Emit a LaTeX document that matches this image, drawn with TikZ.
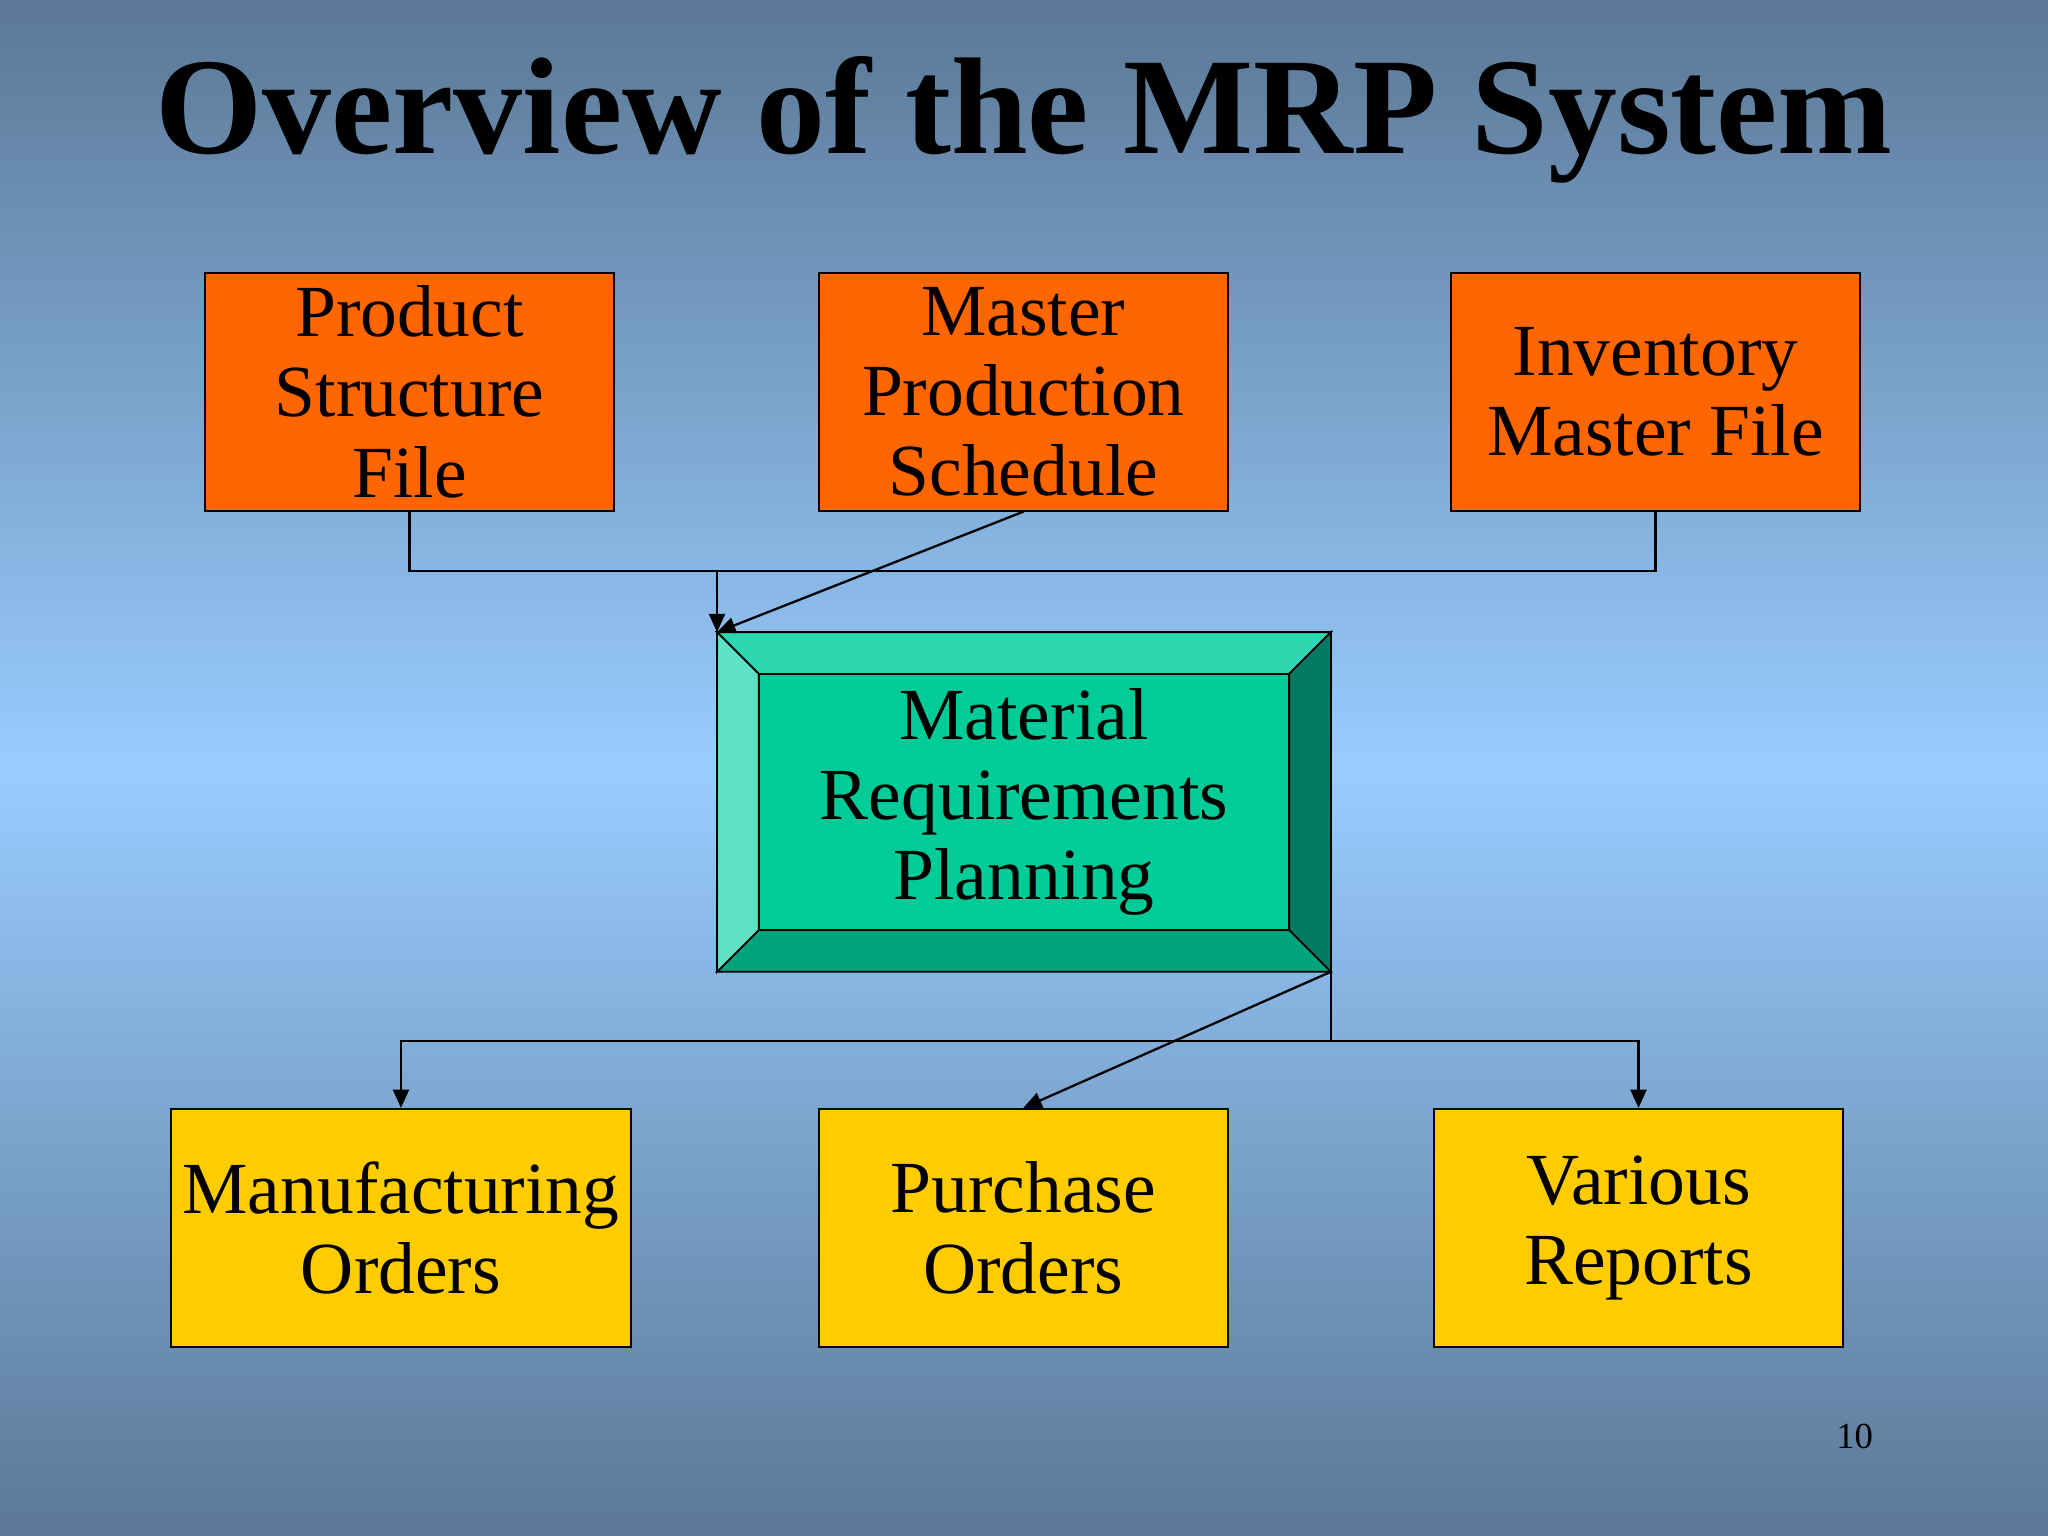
\documentclass[tikz,border=0pt]{standalone}
\usepackage{fontspec}
\setmainfont{Liberation Serif}
\usetikzlibrary{arrows.meta, positioning}
\definecolor{bgdark}{HTML}{5B7896}
\definecolor{bglight}{HTML}{99CCFF}
\definecolor{inbox}{HTML}{FF6600}
\definecolor{outbox}{HTML}{FFCC00}
\definecolor{mrpface}{HTML}{00CC99}
\definecolor{mrptop}{HTML}{2ED6B0}
\definecolor{mrpleft}{HTML}{5EE0C4}
\definecolor{mrpright}{HTML}{007A60}
\definecolor{mrpbottom}{HTML}{00A37A}
\begin{document}
\begin{tikzpicture}[x=0.01cm, y=-0.01cm,
    input/.style={rectangle, draw, fill=inbox, minimum width=3.13cm, minimum height=1.82cm,
                  align=center, font=\fontsize{16}{17.5}\selectfont, inner sep=0pt},
    output/.style={input, fill=outbox},
    link/.style={draw, line width=0.5pt},
    tip/.style={-{Triangle[length=4pt, width=3.5pt]}}]
    % background
    \shade[top color=bgdark, bottom color=bgdark, middle color=bglight] (0,0) rectangle (1568,1176);
    \useasboundingbox (0,0) rectangle (1568,1176);

    \node[font=\fontsize{30}{32}\selectfont\bfseries] (title) at (784,92) {Overview of the MRP System};

    % inputs
    \node[input] (psf) at (313.5,300) {Product\\Structure\\File};
    \node[input] (mps) at (783.5,300) {Master\\Production\\Schedule};
    \node[input] (imf) at (1267.5,300) {Inventory\\Master File};

    % MRP bevelled box
    \coordinate (o_nw) at (549,484);
    \coordinate (o_ne) at (1019,484);
    \coordinate (o_se) at (1019,744);
    \coordinate (o_sw) at (549,744);
    \coordinate (i_nw) at (581,516);
    \coordinate (i_ne) at (987,516);
    \coordinate (i_se) at (987,712);
    \coordinate (i_sw) at (581,712);
    \filldraw[fill=mrptop] (o_nw) -- (o_ne) -- (i_ne) -- (i_nw) -- cycle;
    \filldraw[fill=mrpright] (o_ne) -- (o_se) -- (i_se) -- (i_ne) -- cycle;
    \filldraw[fill=mrpbottom] (o_se) -- (o_sw) -- (i_sw) -- (i_se) -- cycle;
    \filldraw[fill=mrpleft] (o_sw) -- (o_nw) -- (i_nw) -- (i_sw) -- cycle;
    \node[rectangle, draw, fill=mrpface, minimum width=4.06cm, minimum height=1.96cm,
          align=center, font=\fontsize{16}{17.5}\selectfont, inner sep=0pt]
          (mrp) at (784,614) {Material\\Requirements\\Planning};

    % outputs
    \node[output, minimum width=3.52cm] (mfo) at (307,940) {Manufacturing\\Orders};
    \node[output] (po) at (783.5,940) {Purchase\\Orders};
    \node[output] (rep) at (1254.5,940) {Various\\Reports};

    % connectors in
    \coordinate (j_in) at (549,437);
    \draw[link] (psf.south) |- (j_in) -| (imf.south);
    \draw[link, tip] (j_in) -- (o_nw);
    \draw[link, tip] (mps.south) -- (o_nw);

    % connectors out
    \coordinate (j_out) at (1019,797);
    \draw[link] (o_se) -- (j_out);
    \draw[link, tip] (j_out) -| (mfo.north);
    \draw[link, tip] (j_out) -| (rep.north);
    \draw[link, tip] (o_se) -- (po.north);

    \node[font=\fontsize{8}{9}\selectfont] (page) at (1420,1100) {10};
\end{tikzpicture}
\end{document}
